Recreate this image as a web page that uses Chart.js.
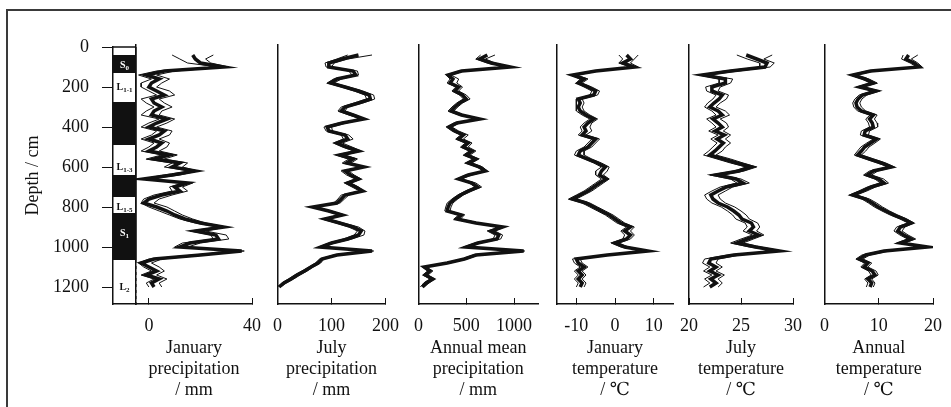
<!DOCTYPE html>
<html>
<head>
<meta charset="utf-8">
<script src="https://cdn.jsdelivr.net/npm/chart.js@4.4.1/dist/chart.umd.min.js"></script>
<style>
  body { margin: 0; background: #fff; width: 951px; height: 407px; position: relative; overflow: hidden; }
  .frame { position: absolute; left: 6px; top: 9px; width: 980px; height: 440px;
           border-left: 2px solid #3a3a3a; border-top: 2px solid #3a3a3a; }
</style>
</head>
<body>
<div class="frame"></div>
<script>
// sample depths (cm), shared by every curve
const depths = [40, 60, 80, 100, 120, 140, 160, 180, 200, 220,
                240, 260, 280, 300, 320, 340, 360, 380, 400, 420,
                440, 460, 480, 500, 520, 540, 560, 580, 600, 620,
                640, 660, 680, 700, 720, 740, 760, 780, 800, 820,
                840, 860, 880, 900, 920, 940, 960, 980, 1000, 1020,
                1040, 1060, 1080, 1100, 1120, 1140, 1160, 1180, 1200];
const depthTicks = [0, 200, 400, 600, 800, 1000, 1200];

// stratigraphic column
const soilTops = [40, 275, 640, 830];
const soilBases = [130, 490, 750, 1065];
const unitNames = ['S', 'L', 'L', 'L', 'S', 'L'];
const unitSubs = ['0', '1-1', '1-3', '1-5', '1', '2'];
const unitLabelDepths = [92, 200, 600, 800, 930, 1200];

// January precipitation (mm)
const janPrecip = [17, 18, 20, 29, 6, -1, 4, 1, 0, 3,
                   6, 1, 2, 5, 2, 1, 7, 3, 0, 6,
                   4, 0, 5, 3, 0, 8, 2, 12, 9, 18,
                   9, -2, 15, 10, 12, 5, 0, -2, 3, 7,
                   10, 14, 20, 29, 18, 26, 27, 16, 12, 36,
                   20, 2, -3, 0, 3, -1, 4, 1, 2];
const janPrecipHi = [25, 22, 24, 31, 10, 3, 8, 5, 3, 8,
                     10, 4, 6, 9, 5, 4, 10, 7, 3, 9,
                     8, 4, 8, 7, 4, 11, 6, 15, 13, 19,
                     12, 0, 17, 13, 15, 9, 4, 2, 7, 10,
                     13, 17, 22, 30, 22, 30, 31, 20, 15, 37,
                     22, 5, 1, 4, 6, 3, 7, 4, 5];
const janPrecipLo = [9, 12, 15, 27, 3, -4, 1, -3, -3, 0,
                     3, -3, -1, 2, -1, -3, 4, 0, -3, 3,
                     1, -3, 2, 0, -3, 5, -1, 9, 6, 16,
                     6, -3, 13, 8, 9, 2, -2, -3, 0, 4,
                     8, 12, 18, 27, 16, 24, 25, 13, 10, 34,
                     17, 0, -4, -2, 1, -3, 2, -1, 0];

// July precipitation (mm)
const julPrecip = [150, 120, 95, 95, 140, 145, 110, 98, 125, 150,
                   170, 172, 150, 125, 118, 140, 160, 120, 92, 95,
                   125, 130, 110, 128, 150, 115, 140, 128, 160, 125,
                   135, 150, 130, 145, 158, 125, 118, 110, 65, 95,
                   120, 88, 115, 140, 155, 150, 130, 100, 80, 175,
                   110, 82, 75, 62, 50, 36, 25, 12, 3];
const julPrecipHi = [175, 130, 105, 100, 148, 150, 118, 105, 132, 158,
                     178, 180, 158, 130, 125, 145, 162, 128, 100, 102,
                     132, 140, 120, 138, 155, 125, 148, 136, 162, 132,
                     142, 155, 136, 150, 160, 132, 124, 116, 70, 100,
                     125, 95, 122, 150, 162, 160, 138, 106, 85, 178,
                     115, 86, 80, 66, 55, 42, 30, 16, 6];
const julPrecipLo = [130, 110, 88, 90, 132, 138, 104, 92, 118, 142,
                     162, 165, 142, 118, 112, 132, 155, 113, 86, 90,
                     118, 122, 104, 120, 142, 108, 132, 120, 155, 118,
                     128, 144, 124, 138, 152, 118, 112, 104, 62, 90,
                     114, 82, 108, 132, 148, 142, 122, 95, 76, 170,
                     104, 78, 70, 58, 45, 32, 20, 8, 0];

// annual mean precipitation (mm)
const annPrecip = [720, 640, 760, 960, 450, 310, 360, 330, 420, 380,
                   460, 500, 430, 380, 340, 450, 640, 400, 320, 380,
                   470, 420, 520, 470, 560, 500, 600, 520, 640, 700,
                   520, 420, 560, 620, 520, 440, 380, 330, 310, 300,
                   450, 400, 600, 880, 760, 840, 820, 620, 500, 1100,
                   600, 480, 300, 60, 120, 70, 150, 80, 40];
const annPrecipHi = [800, 700, 800, 980, 480, 340, 420, 400, 460, 420,
                     500, 540, 460, 410, 370, 480, 660, 430, 350, 420,
                     520, 470, 560, 520, 600, 540, 630, 560, 670, 720,
                     560, 450, 600, 660, 560, 470, 410, 360, 340, 330,
                     480, 440, 640, 900, 800, 880, 860, 650, 530, 1110,
                     630, 510, 330, 80, 150, 100, 170, 110, 60];
const annPrecipLo = [650, 600, 720, 940, 420, 290, 330, 300, 390, 350,
                     430, 470, 400, 350, 310, 420, 620, 370, 290, 350,
                     440, 390, 490, 440, 530, 470, 570, 490, 610, 680,
                     490, 400, 530, 590, 490, 410, 350, 300, 285, 275,
                     420, 370, 570, 850, 720, 800, 780, 590, 470, 1090,
                     570, 450, 270, 40, 95, 45, 120, 55, 20];

// January temperature (°C)
const janTemp = [3, 4, 2, 5, -5, -11, -8, -9.5, -7, -5,
                 -5.5, -9.5, -9, -9.5, -9, -7.5, -5.5, -7, -8, -7.5,
                 -8.5, -5, -6, -7, -9, -9.5, -7, -4.5, -2.5, -3.5,
                 -4, -2.3, -4, -5.5, -7, -9, -11, -7.5, -5.5, -3.5,
                 -1.5, 0, 1.5, 4, 2.5, 4, 3, 0, 2.5, 8.5,
                 -2, -10, -9.5, -8, -9.5, -8.5, -9.5, -8.5, -9];
const janTempHi = [6, 5, 4, 6, -4, -10, -7, -8.5, -6, -4,
                   -4.5, -8.5, -8, -8.5, -8, -6.5, -4.5, -6, -6.5, -6,
                   -7.5, -4, -5, -6, -8, -8, -6, -3.5, -1.5, -2,
                   -3, -1.5, -3, -4.5, -6, -8, -10, -6.5, -4.5, -2.5,
                   -0.5, 1, 2.5, 5, 4, 5, 4, 1, 3.5, 9,
                   -1, -9, -8.5, -7, -8.5, -7.5, -8.5, -7.5, -8];
const janTempLo = [1, 2, 1, 4, -6, -11.5, -9, -10, -8, -6,
                   -6.5, -10, -10, -10, -10, -8.5, -6.5, -8, -9, -8.5,
                   -9.5, -6, -7, -8, -10, -10.5, -8, -5.5, -3.5, -5,
                   -5, -3.5, -5, -6.5, -8, -10, -12, -8.5, -6.5, -4.5,
                   -2.5, -1, 0.5, 3, 1.5, 2.5, 2, -1, 1.5, 8,
                   -3, -11, -10.5, -9, -10.5, -9.5, -10.5, -9.5, -10];

// July temperature (°C)
const julTemp = [25.5, 26.5, 27.5, 27.3, 24.0, 21.3, 23.5, 23.5, 22.2, 22.2,
                 23.2, 22.9, 22.4, 22.0, 22.8, 23.2, 22.3, 22.8, 23.2, 22.5,
                 23.4, 22.7, 23.3, 22.9, 22.5, 22.0, 23.3, 24.6, 26.0, 24.8,
                 22.6, 24.5, 25.2, 23.6, 22.8, 22.1, 22.3, 22.8, 23.7, 24.3,
                 24.8, 25.1, 26.0, 26.2, 25.8, 26.7, 25.6, 24.6, 26.4, 28.7,
                 24.3, 22.1, 21.9, 22.6, 22.0, 22.8, 22.1, 22.6, 22.0];
const julTempHi = [28.0, 27.2, 28.2, 27.8, 24.8, 21.8, 24.2, 24.0, 23.0, 22.8,
                   23.8, 23.6, 23.0, 22.6, 23.5, 23.9, 23.0, 23.6, 23.8, 23.3,
                   24.0, 23.5, 24.0, 23.5, 23.2, 22.6, 24.0, 25.2, 26.5, 25.3,
                   23.2, 25.0, 25.8, 24.2, 23.5, 22.8, 23.0, 23.5, 24.4, 25.0,
                   25.5, 25.8, 26.6, 26.8, 26.5, 27.2, 26.2, 25.2, 26.9, 29.0,
                   24.9, 22.8, 22.6, 23.2, 22.6, 23.4, 22.8, 23.2, 22.8];
const julTempLo = [24.6, 25.6, 26.8, 26.8, 23.4, 20.9, 22.9, 22.9, 21.6, 21.7,
                   22.6, 22.3, 21.8, 21.5, 22.2, 22.6, 21.7, 22.2, 22.6, 21.9,
                   22.8, 22.1, 22.7, 22.3, 21.9, 21.4, 22.7, 24.0, 25.5, 24.3,
                   22.0, 24.0, 24.6, 23.0, 22.2, 21.5, 21.7, 22.2, 23.1, 23.7,
                   24.2, 24.5, 25.4, 25.6, 25.2, 26.1, 25.0, 24.0, 25.8, 28.4,
                   23.7, 21.5, 21.3, 22.0, 21.4, 22.2, 21.5, 22.0, 21.4];

// annual temperature (°C)
const annTemp = [15.5, 15.0, 16.5, 17.5, 8.5, 5.2, 7.5, 9.0, 6.5, 9.5,
                 7.0, 6.2, 5.8, 6.0, 6.8, 9.0, 8.3, 8.8, 9.0, 7.5,
                 7.3, 9.6, 8.5, 7.4, 6.8, 6.1, 8.3, 10.5, 12.3, 9.0,
                 7.9, 10.0, 11.0, 8.6, 7.0, 5.2, 7.6, 8.8, 9.9, 11.3,
                 12.8, 14.6, 16.0, 14.0, 13.5, 14.6, 16.0, 14.0, 19.0, 11.0,
                 7.6, 6.4, 8.0, 7.3, 8.8, 9.3, 8.0, 8.7, 8.4];
const annTempHi = [17.2, 16.0, 17.2, 18.0, 9.2, 5.8, 8.2, 9.7, 7.2, 10.2,
                   7.8, 6.9, 6.5, 6.8, 7.6, 9.7, 9.2, 9.7, 9.8, 8.3,
                   8.1, 10.3, 9.3, 8.2, 7.6, 6.8, 9.0, 11.3, 12.9, 9.8,
                   8.7, 10.9, 11.8, 9.4, 7.8, 5.9, 8.3, 9.6, 10.7, 12.0,
                   13.5, 15.2, 16.5, 14.8, 14.3, 15.4, 16.8, 14.8, 19.3, 12.0,
                   8.3, 7.1, 8.7, 8.0, 9.5, 9.9, 8.7, 9.3, 9.0];
const annTempLo = [14.5, 14.2, 15.8, 17.0, 7.8, 4.7, 6.9, 8.4, 5.9, 8.9,
                   6.4, 5.6, 5.2, 5.4, 6.1, 8.4, 7.6, 8.1, 8.3, 6.8,
                   6.6, 9.0, 7.8, 6.7, 6.1, 5.5, 7.6, 9.8, 11.7, 8.3,
                   7.2, 9.3, 10.3, 7.9, 6.3, 4.6, 6.9, 8.1, 9.2, 10.6,
                   12.1, 13.9, 15.4, 13.3, 12.8, 13.9, 15.3, 13.3, 18.6, 10.4,
                   6.9, 5.8, 7.4, 6.7, 8.1, 8.6, 7.4, 8.0, 7.7];

const FONT = "'Liberation Serif', 'DejaVu Serif', serif";
const INK = '#111';
const H = 407;

function pts(values) {
    return depths.map((d, i) => ({ x: values[i], y: d }));
}

function addCanvas(left, width) {
    const c = document.createElement('canvas');
    c.width = width;
    c.height = H;
    c.style.cssText = 'position:absolute;top:0;left:' + left + 'px;width:' + width + 'px;height:' + H + 'px';
    document.body.appendChild(c);
    return c;
}

const panels = [
    { left: 136, right: 258, min: -5, max: 40, ticks: [0, 40], title: ['January', 'precipitation', '/ mm'],
      main: janPrecip, hi: janPrecipHi, lo: janPrecipLo },
    { left: 276, right: 396, min: 0, max: 200, ticks: [0, 100, 200], title: ['July', 'precipitation', '/ mm'],
      main: julPrecip, hi: julPrecipHi, lo: julPrecipLo },
    { left: 417, right: 538, min: 0, max: 1250, ticks: [0, 500, 1000], title: ['Annual mean', 'precipitation', '/ mm'],
      main: annPrecip, hi: annPrecipHi, lo: annPrecipLo },
    { left: 557, right: 673, min: -15, max: 15, ticks: [-10, 0, 10], title: ['January', 'temperature', '/ ℃'],
      main: janTemp, hi: janTempHi, lo: janTempLo },
    { left: 683, right: 799, min: 20, max: 30, ticks: [20, 25, 30], title: ['July', 'temperature', '/ ℃'],
      main: julTemp, hi: julTempHi, lo: julTempLo },
    { left: 823, right: 939, min: 0, max: 20, ticks: [0, 10, 20], title: ['Annual', 'temperature', '/ ℃'],
      main: annTemp, hi: annTempHi, lo: annTempLo }
];

const PAD = 20;
const thinLine = { borderColor: INK, borderWidth: 1, showLine: true, pointRadius: 0 };

panels.forEach(p => {
    const canvas = addCanvas(p.left - PAD, p.right - p.left + 2 * PAD);
    new Chart(canvas, {
        type: 'scatter',
        data: {
            datasets: [
                { data: pts(p.main), borderColor: INK, borderWidth: 3.5, showLine: true, pointRadius: 0, borderJoinStyle: 'miter' },
                Object.assign({ data: pts(p.hi) }, thinLine),
                Object.assign({ data: pts(p.lo) }, thinLine)
            ]
        },
        options: {
            responsive: false,
            animation: false,
            events: [],
            layout: { padding: { left: PAD, right: PAD, top: 45, bottom: 0 } },
            plugins: { legend: { display: false }, tooltip: { enabled: false } },
            scales: {
                x: {
                    type: 'linear',
                    min: p.min,
                    max: p.max,
                    afterBuildTicks: s => { s.ticks = p.ticks.map(v => ({ value: v })); },
                    afterFit: s => { s.height = H - 304; },
                    grid: { display: true, drawOnChartArea: false, drawTicks: true, tickLength: -6, color: INK, lineWidth: 1 },
                    border: { display: true, color: INK, width: 1.5 },
                    ticks: { padding: 17, color: INK, font: { family: FONT, size: 18 }, maxRotation: 0, autoSkip: false,
                             callback: v => String(v) },
                    title: { display: true, text: p.title, color: INK,
                             font: { family: FONT, size: 18, lineHeight: 1.17 }, padding: { top: 0, bottom: 6.5 } }
                },
                y: {
                    type: 'linear',
                    reverse: true,
                    min: -10,
                    max: 1285,
                    afterFit: s => { s.width = 0; },
                    ticks: { display: false },
                    grid: { display: false },
                    border: { display: true, color: INK, width: 1.5 }
                }
            }
        }
    });
});

// labels written inside the column
const unitLabelPlugin = {
    id: 'unitLabels',
    afterDatasetsDraw(chart) {
        const { ctx, scales: { x, y } } = chart;
        ctx.save();
        ctx.textBaseline = 'middle';
        unitNames.forEach((name, i) => {
            const d = unitLabelDepths[i];
            const inSoil = soilTops.some((t, k) => d >= t && d <= soilBases[k]);
            ctx.fillStyle = inSoil ? '#fff' : INK;
            const cx = x.getPixelForValue(0.5);
            const cy = y.getPixelForValue(d);
            ctx.font = 'bold 10px ' + FONT;
            const mw = ctx.measureText(name).width;
            ctx.font = 'bold 7px ' + FONT;
            const sw = ctx.measureText(unitSubs[i]).width;
            const x0 = cx - (mw + sw) / 2;
            ctx.font = 'bold 10px ' + FONT;
            ctx.fillText(name, x0, cy);
            ctx.font = 'bold 7px ' + FONT;
            ctx.fillText(unitSubs[i], x0 + mw, cy + 3);
        });
        ctx.restore();
    }
};

const colCanvas = addCanvas(0, 140);
const edge = { borderColor: INK, showLine: true, pointRadius: 0, clip: false };
new Chart(colCanvas, {
    type: 'scatter',
    data: {
        datasets: soilTops.map((t, i) => ({
            data: [{ x: 0.5, y: t }, { x: 0.5, y: soilBases[i] }],
            borderColor: INK, borderWidth: 23, borderCapStyle: 'butt', showLine: true, pointRadius: 0
        })).concat([
            Object.assign({ data: [{ x: 0, y: 0 }, { x: 1, y: 0 }], borderWidth: 1.5 }, edge),
            Object.assign({ data: [{ x: 1, y: 0 }, { x: 1, y: soilBases[3] }], borderWidth: 1.2 }, edge),
            Object.assign({ data: [{ x: 1, y: soilBases[3] }, { x: 1, y: 1285 }], borderWidth: 1, borderDash: [3, 3] }, edge)
        ])
    },
    options: {
        responsive: false,
        animation: false,
        events: [],
        layout: { padding: { left: 0, right: 4, top: 47, bottom: 0 } },
        plugins: { legend: { display: false }, tooltip: { enabled: false } },
        scales: {
            x: {
                type: 'linear', min: 0, max: 1,
                afterFit: s => { s.height = H - 304; },
                ticks: { display: false },
                grid: { display: false },
                border: { display: true, color: INK, width: 1.5 }
            },
            y: {
                type: 'linear', reverse: true, min: 0, max: 1285,
                afterBuildTicks: s => { s.ticks = depthTicks.map(v => ({ value: v })); },
                afterFit: s => { s.width = 113; },
                ticks: { padding: 13, color: INK, font: { family: FONT, size: 18 }, callback: v => String(v) },
                grid: { display: true, drawOnChartArea: false, drawTicks: true, tickLength: 11, color: INK, lineWidth: 1 },
                border: { display: true, color: INK, width: 1.5 },
                title: { display: true, text: 'Depth / cm', color: INK, font: { family: FONT, size: 18 },
                         padding: { top: 22, bottom: 0 } }
            }
        }
    },
    plugins: [unitLabelPlugin]
});
</script>
</body>
</html>
